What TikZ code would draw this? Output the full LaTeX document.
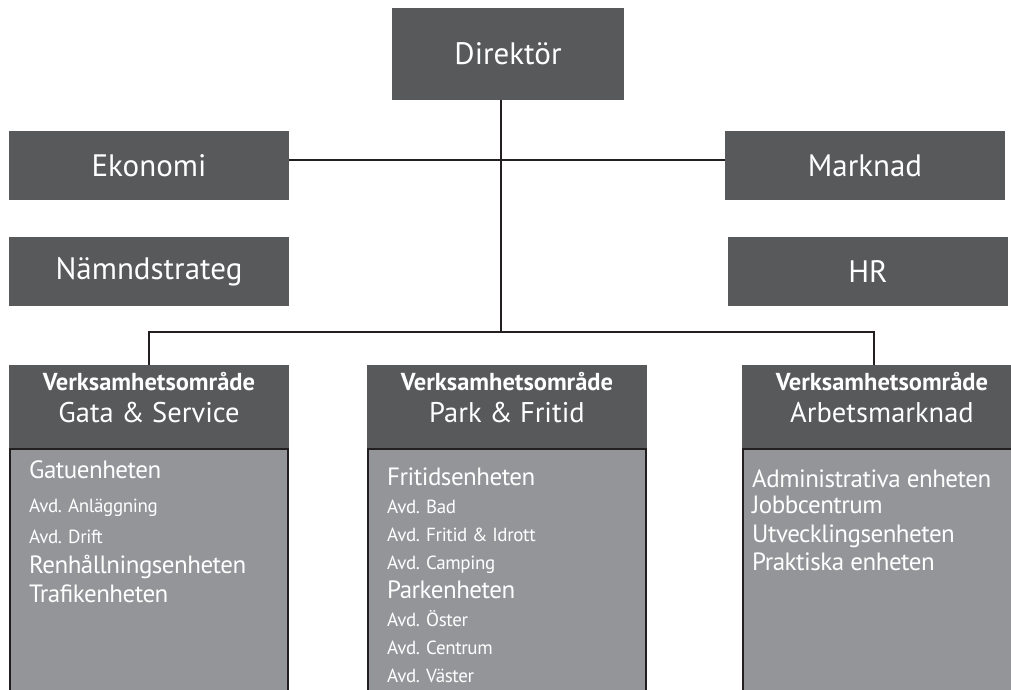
\documentclass[tikz,border=0pt]{standalone}
\usepackage{fontspec}
\setmainfont{PT Sans}
\newfontfamily\listfont[LetterSpace=-2.0]{PT Sans}
\usetikzlibrary{positioning}
\definecolor{boxdark}{HTML}{58595B}
\definecolor{boxlight}{HTML}{939598}
\definecolor{boxline}{HTML}{231F20}

\tikzset{
  unit/.style={fill=boxdark, text=white, minimum width=280pt, minimum height=69pt, inner sep=0pt, font=\fontsize{31}{36}\selectfont},
  areahead/.style={fill=boxdark, minimum width=280pt, minimum height=83pt, inner sep=0pt},
  areabody/.style={fill=boxlight, draw=boxline, line width=2pt, minimum width=278pt, minimum height=270pt, inner sep=0pt, anchor=north},
  headtitle/.style={text=white, inner sep=0pt, anchor=base, font=\bfseries\fontsize{24.5}{28}\selectfont},
  headname/.style={text=white, inner sep=0pt, anchor=base, font=\fontsize{28.5}{32}\selectfont},
  unitname/.style={text=white, inner sep=0pt, anchor=base west, font=\listfont\fontsize{25}{29}\selectfont},
  subname/.style={text=white, inner sep=0pt, anchor=base west, font=\listfont\fontsize{19}{22}\selectfont},
  link/.style={draw=boxline, line width=1.6pt}
}

\begin{document}
\begin{tikzpicture}[x=1pt,y=-1pt]
  \useasboundingbox (0,0) rectangle (1011,689);
  \clip (0,0) rectangle (1011,689);

  % staff
  \node[unit, minimum width=232pt, minimum height=92pt] (dir) at (508,54) {Direktör};
  \node[unit] (eko) at (149,165.5) {Ekonomi};
  \node[unit] (mark) at (865,165.5) {Marknad};
  \node[unit] (namnd) at (149,271.5) {Nämndstrateg};
  \node[unit] (hr) at (868,271.5) {HR};

  % areas
  \node[areahead] (gata) at (149,406.5) {};
  \node[areahead] (park) at (507,406.5) {};
  \node[areahead] (arbete) at (882,406.5) {};
  \foreach \area/\name in {gata/Gata \& Service, park/Park \& Fritid, arbete/Arbetsmarknad} {
    \node[headtitle] (\area-t) at ([yshift=-26pt]\area.north) {Verksamhetsområde};
    \node[headname] (\area-n) at ([yshift=-58pt]\area.north) {\name};
    \node[areabody, below=0pt of \area] (\area-b) {};
  }

  % units in each area
  \foreach \txt/\sty/\yy [count=\i] in {Gatuenheten/unitname/478, Avd. Anläggning/subname/512,
      Avd. Drift/subname/543, Renhållningsenheten/unitname/573, Trafikenheten/unitname/602}
    \node[\sty] (g\i) at (29,\yy) {\txt};
  \foreach \txt/\sty/\yy [count=\i] in {Fritidsenheten/unitname/485, Avd. Bad/subname/513,
      Avd. Fritid \& Idrott/subname/541, Avd. Camping/subname/569, Parkenheten/unitname/598,
      Avd. Öster/subname/626, Avd. Centrum/subname/654, Avd. Väster/subname/682}
    \node[\sty] (p\i) at (387,\yy) {\txt};
  \foreach \txt/\sty/\yy [count=\i] in {Administrativa enheten/unitname/487, Jobbcentrum/unitname/513,
      Utvecklingsenheten/unitname/542, Praktiska enheten/unitname/570}
    \node[\sty] (a\i) at (752,\yy) {\txt};

  % lines
  \coordinate (hub) at (501,332);
  \draw[link] ([yshift=5.5pt]eko.east) -- ([yshift=5.5pt]mark.west);
  \draw[link] (dir.south -| hub) -- (hub);
  \draw[link] (gata.north) |- (hub) -| ([xshift=-8pt]arbete.north);
\end{tikzpicture}
\end{document}
